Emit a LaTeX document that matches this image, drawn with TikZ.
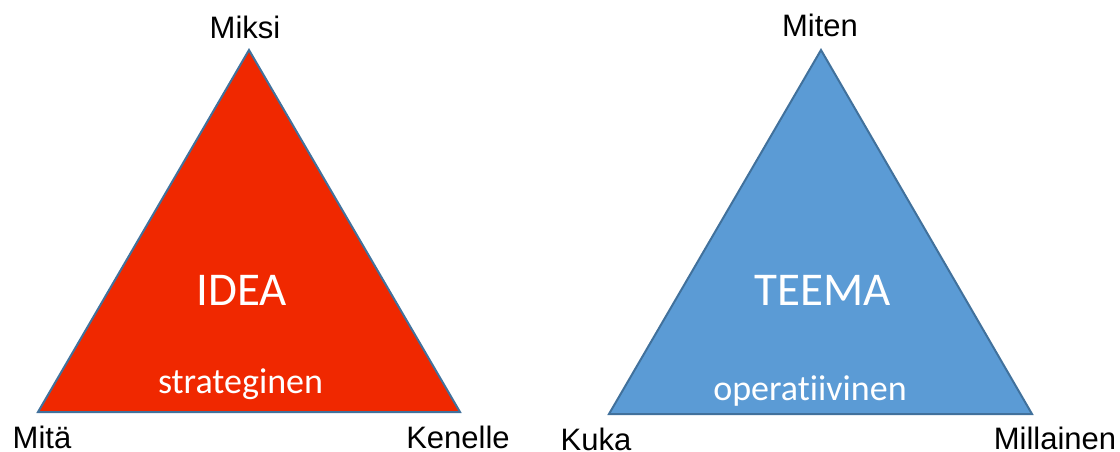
\documentclass[tikz,border=0pt]{standalone}
\usepackage{fontspec}
\setmainfont{Liberation Sans}
\newfontfamily\calfont[Ligatures=NoCommon]{Carlito}
\definecolor{redfill}{RGB}{240,40,0}
\definecolor{bluefill}{RGB}{91,155,213}
\definecolor{edgeblue}{RGB}{65,113,156}
\begin{document}
\begin{tikzpicture}[x=1pt,y=-1pt,
  tri/.style={draw=edgeblue,line width=2pt,line join=miter},
  corner/.style={anchor=base,inner sep=0pt,font=\fontsize{31}{31}\selectfont,text=black},
  big/.style={anchor=base,inner sep=0pt,text=white,font=\calfont\fontsize{47}{47}\selectfont},
  small/.style={anchor=base,inner sep=0pt,text=white,font=\calfont\fontsize{36}{36}\selectfont}]
\useasboundingbox (0,0) rectangle (1120,452);
% left triangle
\coordinate (la) at (249,50);
\coordinate (lb) at (38,412);
\coordinate (lc) at (460,412);
\fill[redfill] (la) -- (lb) -- (lc) -- cycle;
\draw[tri] (la) -- (lb) -- (lc) -- cycle;
% right triangle
\coordinate (ra) at (821,50);
\coordinate (rb) at (609,414);
\coordinate (rc) at (1032,414);
\fill[bluefill] (ra) -- (rb) -- (rc) -- cycle;
\draw[tri] (ra) -- (rb) -- (rc) -- cycle;
% labels
\node[corner] (miksi) at (245,39) {Miksi};
\node[corner] (mita) at (42,448) {Mitä};
\node[corner] (kenelle) at (458,448) {Kenelle};
\node[corner] (miten) at (820,37) {Miten};
\node[corner] (kuka) at (596,450) {Kuka};
\node[corner] (millainen) at (1055,449) {Millainen};
\node[big] (idea) at (241.5,305) {IDEA};
\node[small] (strat) at (240.5,393) {strateginen};
\node[big] (teema) at (823,305) {TEEMA};
\node[small] (oper) at (810,400) {operatiivinen};
\end{tikzpicture}
\end{document}
